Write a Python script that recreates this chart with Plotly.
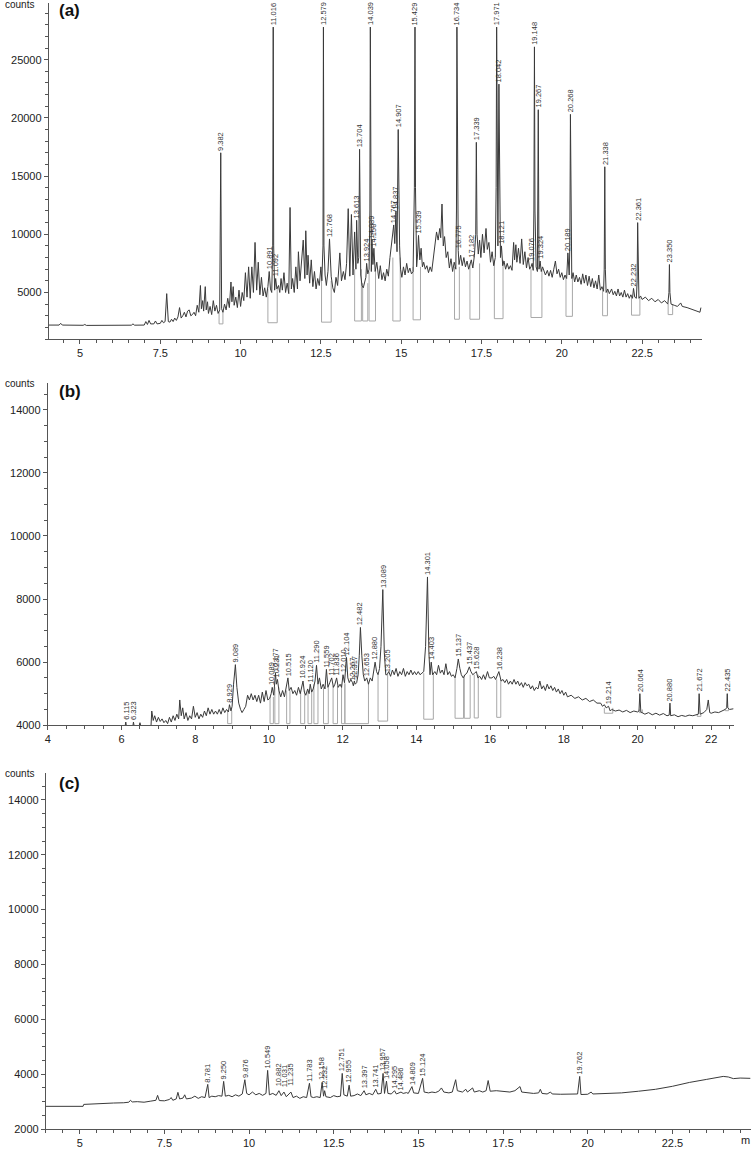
import plotly.graph_objects as go

# ---------------- panel (a) ----------------
a_time = [
    4.0, 4.35, 4.4, 4.45, 5.1, 5.15, 5.2, 6.0, 6.6, 6.65, 6.7, 7.0,
    7.05, 7.1, 7.15, 7.2, 7.3, 7.35, 7.4, 7.5, 7.55, 7.6, 7.65, 7.7, 7.75, 7.8, 7.85, 7.9, 7.95, 8.0,
    8.05, 8.1, 8.15, 8.2, 8.25, 8.3, 8.35, 8.4, 8.45, 8.5, 8.55, 8.6, 8.65, 8.7, 8.75, 8.78, 8.82, 8.85, 8.9, 8.93, 8.97, 9.0,
    9.05, 9.1, 9.15, 9.2, 9.25, 9.3, 9.35, 9.382, 9.41, 9.45,
    9.5, 9.55, 9.6, 9.65, 9.7, 9.73, 9.77, 9.8, 9.85, 9.9, 9.95, 10.0, 10.05, 10.1,
    10.15, 10.2, 10.25, 10.3, 10.35, 10.4, 10.45, 10.5, 10.55, 10.6, 10.65, 10.7, 10.75, 10.8, 10.85,
    10.891, 10.93, 10.97, 11.0, 11.016, 11.03, 11.06, 11.092, 11.13, 11.18, 11.22, 11.26, 11.3, 11.35, 11.4, 11.45, 11.5, 11.54, 11.58,
    11.62, 11.67, 11.72, 11.77, 11.8, 11.85, 11.9, 11.95, 12.0, 12.03, 12.07, 12.1, 12.15, 12.2, 12.25, 12.3, 12.35, 12.4, 12.45, 12.5,
    12.53, 12.565, 12.579, 12.595, 12.63, 12.67, 12.72, 12.768, 12.82, 12.87, 12.92, 12.97, 13.02, 13.09, 13.14, 13.2, 13.25, 13.3, 13.35, 13.4,
    13.45, 13.5, 13.55, 13.59, 13.613, 13.65, 13.68, 13.704, 13.74, 13.78, 13.82, 13.86, 13.9, 13.924, 13.96, 14.0, 14.025, 14.039, 14.055, 14.07, 14.089, 14.12, 14.15, 14.19, 14.24,
    14.3, 14.35, 14.4, 14.45, 14.5, 14.55, 14.6, 14.65, 14.7, 14.767, 14.8, 14.837, 14.87, 14.907, 14.95, 14.98,
    15.02, 15.07, 15.12, 15.17, 15.22, 15.27, 15.32, 15.37, 15.41, 15.429, 15.445, 15.48, 15.51, 15.539, 15.58, 15.62, 15.66,
    15.7, 15.75, 15.8, 15.85, 15.9, 15.95, 16.0, 16.05, 16.1, 16.15, 16.2, 16.23, 16.27, 16.31, 16.35, 16.4, 16.45, 16.5, 16.55, 16.6, 16.65, 16.7,
    16.72, 16.734, 16.75, 16.775, 16.8, 16.85, 16.9, 16.95, 17.0, 17.05, 17.1, 17.14, 17.182, 17.23, 17.28, 17.32, 17.339, 17.36, 17.4, 17.44,
    17.48, 17.53, 17.58, 17.64, 17.68, 17.73, 17.78, 17.83, 17.88, 17.93, 17.955, 17.971, 17.99, 18.01, 18.042, 18.07, 18.09, 18.121, 18.16,
    18.2, 18.25, 18.3, 18.35, 18.4, 18.45, 18.5, 18.53, 18.57, 18.6, 18.65, 18.7, 18.75, 18.8, 18.85, 18.9, 18.95, 19.0, 19.04,
    19.076, 19.11, 19.13, 19.148, 19.165, 19.2, 19.24, 19.267, 19.29, 19.324, 19.36, 19.4, 19.44, 19.49,
    19.55, 19.6, 19.65, 19.7, 19.75, 19.8, 19.85, 19.9, 19.95, 20.0, 20.05, 20.1, 20.15, 20.189, 20.23, 20.25, 20.268, 20.285, 20.31,
    20.35, 20.4, 20.45, 20.5, 20.55, 20.6, 20.65, 20.7, 20.75, 20.8, 20.85, 20.9, 20.95, 21.0, 21.05, 21.1, 21.15, 21.2, 21.25, 21.3, 21.32, 21.338, 21.355, 21.38, 21.43, 21.48,
    21.55, 21.6, 21.65, 21.7, 21.75, 21.8, 21.85, 21.9, 21.95, 22.0, 22.05, 22.1, 22.15, 22.2, 22.232, 22.27, 22.32, 22.345, 22.361, 22.375, 22.4, 22.45, 22.5,
    22.6, 22.7, 22.8, 22.9, 23.0, 23.1, 23.2, 23.3, 23.335, 23.35, 23.365, 23.4, 23.5, 23.6, 23.7, 23.75, 23.9, 24.0, 24.1, 24.2, 24.3, 24.33,
]
a_counts = [
    2200, 2200, 2350, 2200, 2180, 2250, 2170, 2170, 2190, 2300, 2190, 2200,
    2500, 2250, 2600, 2300, 2300, 2550, 2300, 2350, 2600, 2400, 2500, 4900, 2500, 2450, 2700, 2500, 2800, 2600,
    2900, 3700, 2800, 3000, 3300, 2900, 3400, 3500, 3000, 3100, 3300, 3000, 3900, 3300, 5600, 3600, 4300, 3400, 5500, 3500, 4200, 3200,
    3800, 3100, 4300, 3400, 3900, 3200, 3500, 17000, 3600, 3300,
    4000, 3500, 4500, 3700, 5900, 4200, 5500, 3900, 4600, 3700, 5200, 3800, 5000, 4300,
    6700, 4600, 7200, 4500, 7200, 5000, 9300, 5200, 7600, 4800, 6300, 4700, 5400, 4600, 5500,
    6800, 5300, 5000, 9000, 27800, 9000, 5200, 6200, 5300, 5600, 5000, 6200, 5200, 6700, 5000, 5800, 4900, 12300, 5300,
    6200, 5000, 7200, 5300, 8500, 6000, 7500, 9500, 6200, 10300, 6500, 8200, 5800, 7800, 5500, 6800, 5300, 6200, 5600, 7200,
    6000, 9000, 27800, 9000, 6500, 5600, 6800, 9600, 6400, 5400, 5000, 6300, 5600, 8400, 6000, 6800, 6100, 7500, 12200, 6400,
    11700, 6500, 10200, 7000, 11200, 7500, 8000, 17300, 6500, 5600, 5400, 5800, 6300, 7500, 6600, 7000, 12000, 27800, 12000, 6800, 9500, 7400, 8800, 6800, 7600,
    6200, 7300, 6100, 6700, 6000, 7000, 6400, 8000, 9000, 10800, 9200, 12000, 8500, 19000, 9000, 7000,
    6300, 7200, 6500, 7500, 6700, 7100, 6600, 6800, 14000, 27800, 14000, 7200, 8300, 9900, 7800, 8800, 7200,
    7600, 7000, 7300, 6700, 7200, 6800, 8000, 9200, 10200, 9500, 10500, 9700, 12600, 9000, 9800, 8000, 8500, 7100, 7900, 6800, 7600, 7000,
    12000, 27800, 12000, 8600, 7400, 8200, 7300, 8000, 7200, 7700, 7000, 7300, 7800, 7100, 8200, 10000, 17900, 10000, 8300, 9500,
    8000, 10000, 8400, 10500, 8700, 9300, 7600, 8500, 7300, 8000, 14000, 27800, 10000, 9000, 22900, 9000, 8000, 9000, 7300,
    7700, 7000, 7500, 7000, 7300, 6900, 9300, 7800, 9100, 7600, 8800, 7500, 9600, 7400, 8500, 7100, 8000, 7000, 7200,
    7500, 6900, 12000, 26100, 12000, 7200, 6800, 20700, 7000, 7700, 6800, 7200, 6800, 6500,
    6900, 6400, 6900, 6300, 7000, 7700, 6600, 7000, 6300, 6700, 6100, 6500, 6200, 8400, 6500, 9000, 20300, 9000, 6200,
    6700, 5900, 6500, 5900, 6300, 5700, 6600, 5800, 6500, 5600, 6400, 5500, 6200, 5400, 6000, 5300, 6500, 5200, 5500, 5100, 7000, 15800, 7000, 5000, 5300, 4900,
    5300, 4800, 5100, 4700, 5300, 4700, 5000, 4600, 5200, 4600, 4900, 4500, 4800, 4500, 5350, 4600, 4500, 6000, 11000, 6000, 4500, 4700, 4400,
    4600, 4300, 4500, 4200, 4400, 4100, 4300, 4000, 5000, 7400, 5000, 4000, 3900, 3800, 4100, 3800, 3700, 3600, 3500, 3400, 3300, 3700,
]
a_peak_rt = [9.382, 10.891, 11.016, 11.092, 12.579, 12.768, 13.613, 13.704, 13.924, 14.039,
             14.089, 14.150, 14.767, 14.837, 14.907, 15.429, 15.539, 16.734, 16.775, 17.182,
             17.339, 17.971, 18.042, 18.121, 19.076, 19.148, 19.267, 19.324, 20.189, 20.268,
             21.338, 22.232, 22.361, 23.350]
a_peak_counts = [17000, 6800, 27800, 6200, 27800, 9600, 11200, 17300, 7500, 27800,
                 9500, 8800, 10800, 12000, 19000, 27800, 9900, 27800, 8600, 7800,
                 17900, 27800, 22900, 9000, 7500, 26100, 20700, 7700, 8400, 20300,
                 15800, 5350, 11000, 7400]
a_box_start = [9.33, 10.85, 12.52, 13.55, 13.8, 14.0, 14.74, 15.37, 16.66, 17.14, 17.9, 19.04, 20.13, 21.27, 22.17, 23.31]
a_box_end = [9.45, 11.14, 12.82, 13.76, 13.96, 14.2, 14.97, 15.6, 16.81, 17.44, 18.17, 19.38, 20.33, 21.42, 22.43, 23.45]
a_box_floor = [2300, 2400, 2450, 2550, 2550, 2550, 2550, 2650, 2700, 2700, 2750, 2850, 2950, 3000, 3050, 3100]
a_box_top = [3400, 5300, 6000, 7000, 5800, 6800, 8000, 7200, 7200, 7500, 7800, 7000, 6400, 5200, 4600, 4000]

# ---------------- panel (b) ----------------
b_time = [
    4.0, 6.1, 6.115, 6.13, 6.31, 6.323, 6.34, 6.48, 6.5, 6.52, 6.8,
    6.82, 6.86, 6.9, 6.95, 7.0, 7.05, 7.1, 7.15, 7.2, 7.25, 7.3, 7.35, 7.4, 7.45, 7.5, 7.55, 7.58, 7.62, 7.66, 7.7,
    7.75, 7.8, 7.85, 7.9, 7.95, 8.0, 8.05, 8.1, 8.15, 8.2, 8.25, 8.3, 8.35, 8.4, 8.45, 8.5, 8.55, 8.6, 8.65, 8.7,
    8.75, 8.8, 8.85, 8.9, 8.929, 8.97, 9.0, 9.04, 9.089, 9.13, 9.18, 9.23, 9.27, 9.32, 9.37, 9.42, 9.47, 9.52, 9.57, 9.62,
    9.67, 9.72, 9.77, 9.82, 9.87, 9.92, 9.97, 10.02, 10.06, 10.089, 10.13, 10.177, 10.2, 10.231, 10.27, 10.32, 10.37, 10.42, 10.47, 10.515,
    10.55, 10.6, 10.65, 10.7, 10.75, 10.8, 10.85, 10.89, 10.924, 10.96, 11.0, 11.05, 11.09, 11.12, 11.16, 11.2, 11.25, 11.29, 11.33, 11.37,
    11.42, 11.47, 11.52, 11.559, 11.6, 11.65, 11.702, 11.75, 11.79, 11.836, 11.88, 11.93, 11.97, 12.01, 12.05, 12.104, 12.14, 12.18, 12.22, 12.267,
    12.29, 12.317, 12.34, 12.38, 12.42, 12.45, 12.482, 12.52, 12.56, 12.6, 12.653, 12.7, 12.75, 12.8, 12.84, 12.88, 12.92, 12.96, 13.0, 13.04,
    13.089, 13.13, 13.17, 13.205, 13.25, 13.3, 13.35, 13.4, 13.45, 13.5, 13.55, 13.6, 13.65, 13.7, 13.75, 13.8, 13.85, 13.9, 13.95, 14.0,
    14.05, 14.1, 14.15, 14.2, 14.25, 14.301, 14.34, 14.37, 14.403, 14.44, 14.5, 14.55, 14.6, 14.65, 14.7, 14.75, 14.8, 14.85, 14.9, 14.95,
    15.0, 15.05, 15.1, 15.137, 15.18, 15.22, 15.27, 15.32, 15.37, 15.437, 15.48, 15.53, 15.58, 15.628, 15.67, 15.72, 15.77, 15.82, 15.87, 15.93,
    15.98, 16.05, 16.1, 16.15, 16.238, 16.3, 16.35, 16.4, 16.45, 16.5, 16.55, 16.6, 16.65, 16.7, 16.75, 16.8, 16.85, 16.9, 16.95, 17.0,
    17.05, 17.1, 17.15, 17.2, 17.25, 17.3, 17.35, 17.4, 17.45, 17.5, 17.55, 17.6, 17.65, 17.7, 17.75, 17.8, 17.85, 17.9, 17.95, 18.0,
    18.05, 18.1, 18.2, 18.3, 18.4, 18.5, 18.6, 18.7, 18.8, 18.9, 19.0, 19.05, 19.1, 19.15, 19.214, 19.26, 19.3, 19.4, 19.5, 19.6,
    19.7, 19.8, 19.9, 20.0, 20.04, 20.064, 20.09, 20.2, 20.3, 20.4, 20.5, 20.6, 20.7, 20.8, 20.86, 20.88, 20.9, 21.0, 21.1, 21.2,
    21.3, 21.4, 21.5, 21.6, 21.65, 21.672, 21.7, 21.8, 21.88, 21.92, 21.96, 22.0, 22.1, 22.2, 22.3, 22.38, 22.42, 22.435, 22.45, 22.5, 22.6,
]
b_counts = [
    3990, 3990, 4100, 3990, 3990, 4100, 3990, 3990, 4080, 3990, 3990,
    4450, 4150, 4300, 4100, 4250, 4120, 4200, 4080, 4150, 4050, 4250, 4100, 4300, 4150, 4350, 4200, 4800, 4300, 4550, 4200,
    4400, 4150, 4300, 4200, 4600, 4250, 4400, 4200, 4350, 4250, 4450, 4300, 4550, 4350, 4500, 4350, 4450, 4350, 4500, 4350,
    4550, 4400, 4500, 4420, 4650, 4450, 4600, 5300, 5920, 5200, 4700, 4500, 4400, 4500, 4600, 4950, 4800, 5000, 4800, 4950,
    4750, 4950, 4700, 5050, 4750, 5100, 4800, 4850, 5000, 5200, 4950, 5650, 5300, 5450, 5100, 4900, 5100, 4900, 5200, 5500,
    5100, 5200, 5000, 5100, 4950, 5200, 5000, 5250, 5400, 5050, 4950, 5150, 5000, 5300, 5050, 5150, 5400, 5900, 5300, 5500,
    5150, 5300, 5150, 5770, 5200, 5350, 5500, 5200, 5300, 5500, 5200, 5300, 5200, 5600, 5350, 6150, 5500, 5350, 5450, 5350,
    5250, 5400, 5300, 5350, 5600, 6200, 7100, 6200, 5600, 5400, 5500, 5300, 5500, 5400, 5650, 6000, 5700, 5600, 5800, 6500,
    8300, 6300, 5600, 5600, 5700, 5550, 5750, 5600, 5800, 5550, 5700, 5600, 5800, 5550, 5700, 5600, 5750, 5600, 5700, 5600,
    5700, 5600, 5650, 5700, 6500, 8700, 6300, 5600, 6000, 5600, 5700, 5600, 5900, 5650, 5750, 5600, 5950, 5600, 5700, 5550,
    5600, 5500, 5800, 6100, 5800, 5600, 5500, 5600, 5650, 5850, 5700, 5600, 5650, 5700, 5500, 5550, 5450, 5600, 5450, 5700,
    5500, 5500, 5550, 5450, 5700, 5400, 5450, 5350, 5450, 5300, 5400, 5300, 5450, 5300, 5400, 5250, 5350, 5200, 5350, 5250,
    5300, 5150, 5250, 5100, 5200, 5150, 5400, 5150, 5250, 5100, 5300, 5150, 5250, 5100, 5200, 5050, 5150, 5000, 5100, 4950,
    5050, 4900, 4950, 4850, 4900, 4800, 4850, 4750, 4800, 4700, 4700, 4600, 4650, 4550, 4600, 4450, 4500, 4450, 4480, 4420,
    4470, 4400, 4450, 4420, 4450, 5000, 4420, 4350, 4400, 4330, 4380, 4320, 4370, 4300, 4320, 4700, 4300, 4330, 4270, 4310,
    4280, 4320, 4300, 4320, 4350, 5000, 4350, 4400, 4500, 4800, 4400, 4380, 4420, 4400, 4450, 4500, 4550, 5000, 4550, 4500, 4520,
]
b_peak_rt = [6.115, 6.323, 8.929, 9.089, 10.089, 10.177, 10.231, 10.515, 10.924, 11.120,
             11.290, 11.559, 11.702, 11.836, 12.010, 12.104, 12.267, 12.317, 12.482, 12.653,
             12.880, 13.089, 13.205, 14.301, 14.403, 15.137, 15.437, 15.628, 16.238, 19.214,
             20.064, 20.880, 21.672, 22.435]
b_peak_counts = [4100, 4100, 4650, 5920, 5200, 5650, 5450, 5500, 5400, 5300,
                 5900, 5770, 5500, 5500, 5600, 6150, 5350, 5400, 7100, 5500,
                 6000, 8300, 5600, 8700, 6000, 6100, 5850, 5700, 5700, 4600,
                 5000, 4700, 5000, 5000]
b_box_start = [8.88, 10.03, 10.16, 10.48, 10.86, 11.06, 11.22, 11.48, 11.74, 11.97, 12.06, 12.96, 14.2, 15.05, 15.3, 15.57, 16.18, 19.1, 20.05, 21.62, 22.38]
b_box_end = [8.99, 10.12, 10.27, 10.57, 10.97, 11.16, 11.33, 11.61, 11.86, 12.06, 12.7, 13.22, 14.46, 15.28, 15.46, 15.68, 16.29, 19.33, 20.13, 21.72, 22.47]
b_box_floor = [4050, 4050, 4050, 4050, 4050, 4050, 4050, 4050, 4050, 4050, 4050, 4130, 4190, 4220, 4220, 4230, 4250, 4380, 4400, 4280, 4460]
b_box_top = [4450, 4900, 5200, 5100, 5100, 5100, 5300, 5200, 5250, 5300, 5350, 5600, 5650, 5500, 5600, 5600, 5450, 4550, 4500, 4350, 4520]

# ---------------- panel (c) ----------------
c_time = [
    4.0, 5.1, 5.12, 5.5, 5.8, 6.0, 6.3, 6.45, 6.5, 6.55, 6.7, 6.9, 7.1, 7.25, 7.3, 7.35, 7.5, 7.65, 7.7, 7.75,
    7.85, 7.9, 7.95, 8.05, 8.1, 8.15, 8.3, 8.4, 8.5, 8.6, 8.7, 8.781, 8.82, 8.9, 9.0, 9.1, 9.2, 9.25, 9.3, 9.4,
    9.5, 9.6, 9.7, 9.8, 9.876, 9.93, 10.0, 10.1, 10.2, 10.3, 10.4, 10.5, 10.549, 10.6, 10.7, 10.8, 10.882, 10.95, 11.031, 11.1,
    11.235, 11.3, 11.4, 11.5, 11.6, 11.7, 11.783, 11.83, 11.9, 12.0, 12.1, 12.158, 12.2, 12.232, 12.27, 12.4, 12.5, 12.6, 12.7, 12.751,
    12.8, 12.9, 12.955, 13.0, 13.1, 13.2, 13.3, 13.397, 13.45, 13.55, 13.65, 13.741, 13.8, 13.9, 13.957, 14.0, 14.058, 14.1, 14.2, 14.295,
    14.35, 14.486, 14.55, 14.65, 14.7, 14.809, 14.86, 15.0, 15.124, 15.17, 15.3, 15.4, 15.5, 15.6, 15.68, 15.75, 15.9, 16.0, 16.1, 16.15,
    16.3, 16.4, 16.45, 16.6, 16.65, 16.8, 16.9, 17.0, 17.06, 17.12, 17.3, 17.5, 17.7, 17.85, 18.0, 18.05, 18.2, 18.4, 18.55, 18.6,
    18.65, 18.8, 18.9, 18.95, 19.2, 19.5, 19.7, 19.762, 19.8, 20.0, 20.1, 20.15, 20.5, 21.0, 21.5, 22.0, 22.5, 23.0, 23.5, 23.8, 24.0, 24.15, 24.3, 24.5, 24.8,
]
c_counts = [
    2830, 2830, 2900, 2910, 2920, 2950, 2960, 2980, 3050, 2990, 3000, 2980, 3020, 3050, 3230, 3040, 3030, 3080, 3150, 3050,
    3100, 3340, 3100, 3130, 3250, 3100, 3130, 3200, 3120, 3180, 3150, 3630, 3150, 3200, 3180, 3220, 3200, 3740, 3200, 3230,
    3180, 3250, 3200, 3280, 3800, 3300, 3250, 3350, 3250, 3300, 3230, 3300, 4140, 3250, 3300, 3230, 3400, 3220, 3350, 3180,
    3350, 3150, 3200, 3120, 3180, 3150, 3670, 3180, 3150, 3180, 3150, 3700, 3200, 3400, 3180, 3150, 3220, 3180, 3200, 4030,
    3250, 3200, 3600, 3200, 3220, 3280, 3220, 3400, 3250, 3300, 3250, 3450, 3280, 3300, 4030, 3300, 3750, 3300, 3280, 3400,
    3280, 3350, 3300, 3330, 3300, 3550, 3320, 3300, 3850, 3350, 3320, 3350, 3330, 3380, 3500, 3350, 3320, 3350, 3800, 3400,
    3350, 3450, 3350, 3500, 3350, 3400, 3350, 3400, 3770, 3380, 3400, 3380, 3350, 3400, 3550, 3350, 3320, 3300, 3320, 3450,
    3300, 3280, 3350, 3280, 3270, 3270, 3280, 3920, 3260, 3270, 3350, 3280, 3300, 3320, 3380, 3450, 3560, 3700, 3810, 3880, 3920, 3900, 3840, 3860, 3850,
]
c_peak_rt = [8.781, 9.250, 9.876, 10.549, 10.882, 11.031, 11.235, 11.783, 12.158, 12.232,
             12.751, 12.955, 13.397, 13.741, 13.957, 14.058, 14.295, 14.486, 14.809, 15.124, 19.762]
c_peak_counts = [3630, 3740, 3800, 4140, 3500, 3450, 3500, 3670, 3700, 3400,
                 4030, 3600, 3400, 3450, 4030, 3750, 3400, 3350, 3550, 3850, 3920]

W, H = 751, 1154
TRACE = "#3a3a3a"
BOX = "#a8a8a8"
AXIS = "#555555"
FONT = "Liberation Sans, Arial, sans-serif"

fig = go.Figure()


def box_lines(starts, ends, floors, tops):
    xs, ys = [], []
    for s, e, f, t in zip(starts, ends, floors, tops):
        xs += [s, s, e, e, None]
        ys += [t, f, f, t, None]
    return xs, ys


bx, by = box_lines(a_box_start, a_box_end, a_box_floor, a_box_top)
fig.add_trace(go.Scatter(x=bx, y=by, mode="lines", line=dict(color=BOX, width=1),
                         xaxis="x", yaxis="y", hoverinfo="skip"))
fig.add_trace(go.Scatter(x=a_time, y=a_counts, mode="lines", line=dict(color=TRACE, width=1),
                         xaxis="x", yaxis="y"))

bx, by = box_lines(b_box_start, b_box_end, b_box_floor, b_box_top)
fig.add_trace(go.Scatter(x=bx, y=by, mode="lines", line=dict(color=BOX, width=1),
                         xaxis="x2", yaxis="y2", hoverinfo="skip"))
fig.add_trace(go.Scatter(x=b_time, y=b_counts, mode="lines", line=dict(color=TRACE, width=1),
                         xaxis="x2", yaxis="y2"))

fig.add_trace(go.Scatter(x=c_time, y=c_counts, mode="lines", line=dict(color=TRACE, width=1),
                         xaxis="x3", yaxis="y3"))


def px_x(p):
    return p / W


def px_y(p):
    return 1 - p / H


def xax(domain, rng, dtick, tick0):
    return dict(domain=domain, range=rng, dtick=dtick, tick0=tick0,
                showline=True, linecolor=AXIS, linewidth=1, ticks="outside",
                ticklen=4, tickcolor=AXIS, showgrid=False, zeroline=False,
                tickfont=dict(size=11, color="#222", family=FONT),
                minor=dict(dtick=0.5, tick0=0, ticks="outside", ticklen=3, tickcolor=AXIS))


def yax(domain, rng, dtick, mdtick, anchor):
    return dict(domain=domain, range=rng, dtick=dtick, anchor=anchor, tickformat="d",
                showline=True, linecolor=AXIS, linewidth=1, ticks="outside",
                ticklen=4, tickcolor=AXIS, showgrid=False, zeroline=False,
                tickfont=dict(size=11, color="#222", family=FONT),
                minor=dict(dtick=mdtick, ticks="outside", ticklen=3, tickcolor=AXIS))


fig.update_layout(
    width=W, height=H, margin=dict(l=0, r=0, t=0, b=0),
    paper_bgcolor="white", plot_bgcolor="white", showlegend=False,
    font=dict(family=FONT, color="#222"),
    xaxis=dict(xax([px_x(46), px_x(702)], [4.03, 24.37], 2.5, 5), anchor="y"),
    yaxis=yax([px_y(341), px_y(3)], [983, 29870], 5000, 1000, "x"),
    xaxis2=dict(xax([px_x(45), px_x(734)], [4.0, 22.62], 2, 4), anchor="y2"),
    yaxis2=yax([px_y(729), px_y(385)], [4000, 14850], 2000, 500, "x2"),
    xaxis3=dict(xax([px_x(43), px_x(751)], [4.0, 24.82], 2.5, 5), anchor="y3"),
    yaxis3=yax([px_y(1135), px_y(777)], [2000, 14980], 2000, 500, "x3"),
)

ann = []
for rts, vals, xr, yr in [(a_peak_rt, a_peak_counts, "x", "y"),
                          (b_peak_rt, b_peak_counts, "x2", "y2"),
                          (c_peak_rt, c_peak_counts, "x3", "y3")]:
    for rt, v in zip(rts, vals):
        ann.append(dict(x=rt, y=v, xref=xr, yref=yr, text=f"{rt:.3f}", textangle=-90,
                        showarrow=False, xanchor="center", yanchor="bottom", yshift=1,
                        borderpad=0, font=dict(size=7.5, color="#333", family=FONT)))

for label, top in [("(a)", 11), ("(b)", 394), ("(c)", 788)]:
    ann.append(dict(x=px_x(54), y=px_y(top), xref="paper", yref="paper", text=f"<b>{label}</b>",
                    showarrow=False, xanchor="left", yanchor="middle",
                    font=dict(size=17, color="#111", family=FONT)))
for top in [5, 386, 778]:
    ann.append(dict(x=0, y=px_y(top), xref="paper", yref="paper", text="counts",
                    showarrow=False, xanchor="left", yanchor="middle",
                    font=dict(size=10, color="#222", family=FONT)))
ann.append(dict(x=px_x(745), y=px_y(1146), xref="paper", yref="paper", text="m",
                showarrow=False, xanchor="center", yanchor="middle",
                font=dict(size=11, color="#222", family=FONT)))
fig.update_layout(annotations=ann)

fig.write_html("out.html", config={"displayModeBar": False},
               post_script="document.body.style.margin='0';document.body.style.overflow='hidden';")
